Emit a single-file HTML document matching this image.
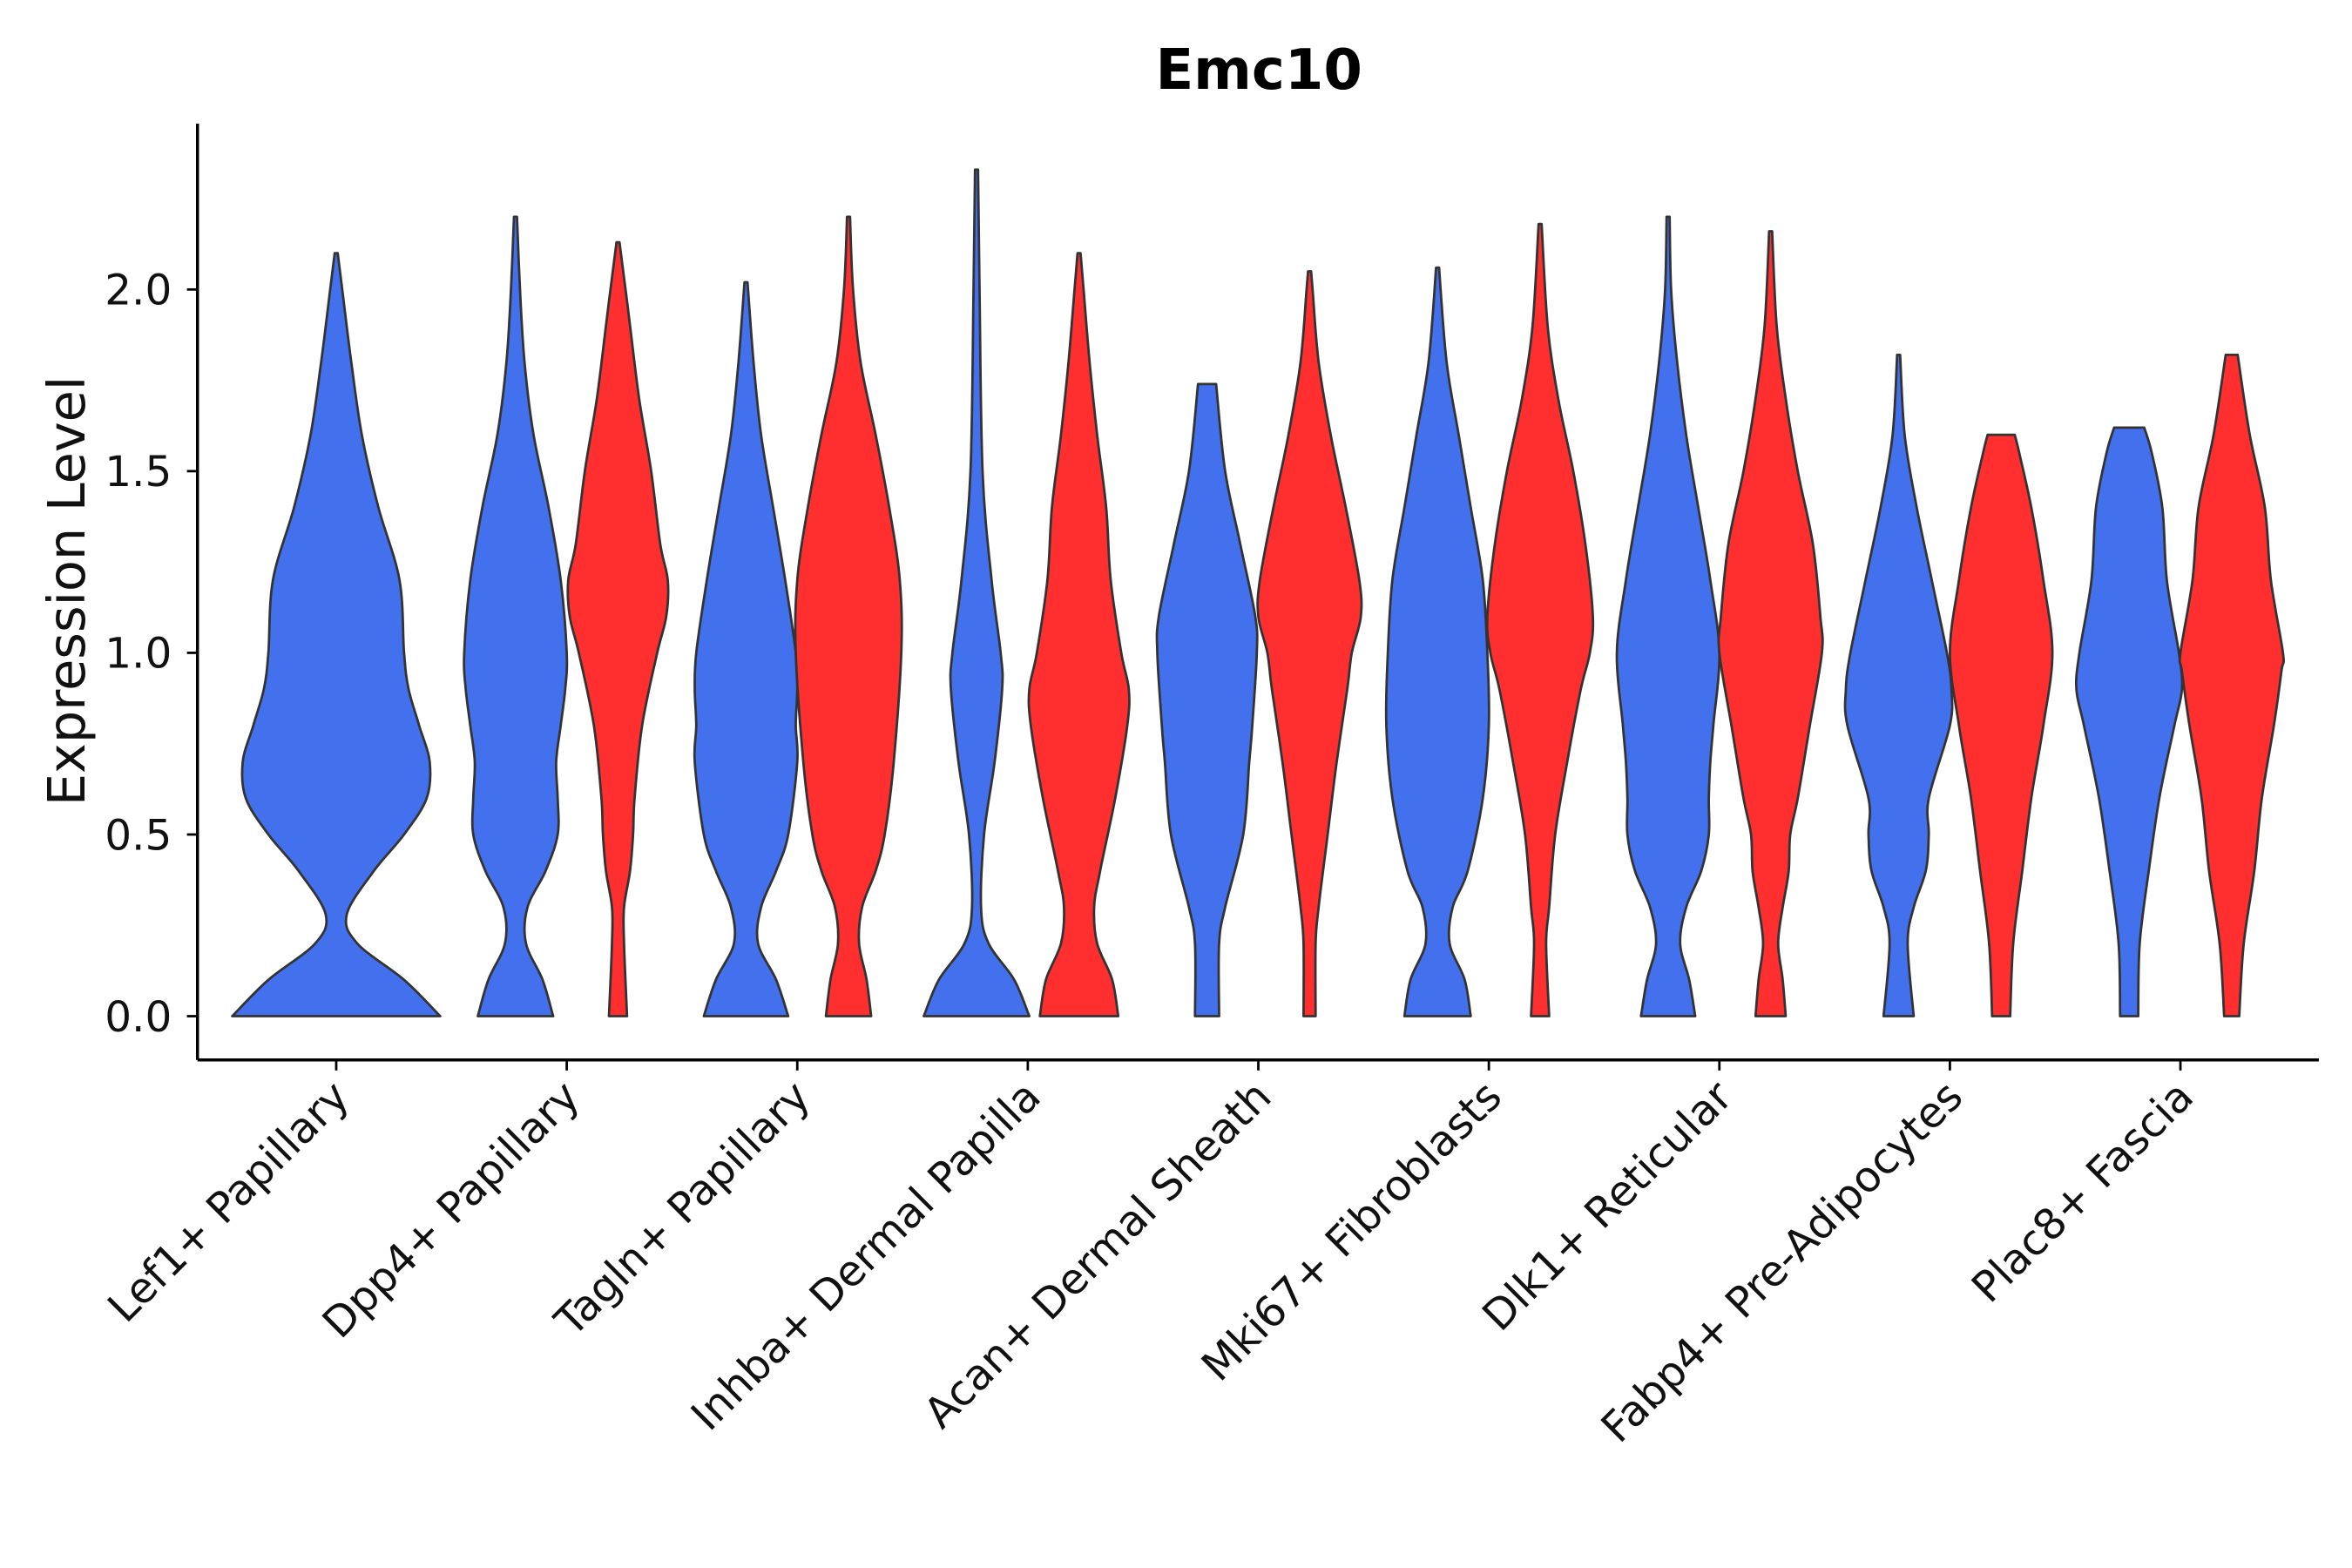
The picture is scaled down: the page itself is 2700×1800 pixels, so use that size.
<!DOCTYPE html>
<html><head><meta charset="utf-8"><style>
html,body{margin:0;padding:0;background:#fff;}
svg{display:block;font-family:"DejaVu Sans","Liberation Sans",sans-serif;}
</style></head><body>
<svg id="chart" width="2700" height="1800" viewBox="0 0 1560 1040" xmlns="http://www.w3.org/2000/svg">
<rect width="1560" height="1040" fill="#fff"/>
<text x="835" y="59" text-anchor="middle" font-size="37" font-weight="bold">Emc10</text>
<text transform="translate(56,392) rotate(-90)" text-anchor="middle" font-size="34" fill="#111">Expression Level</text>
<g id="violins"></g>
<g id="axes"></g>
</svg>
<script>
const categories = ["Lef1+ Papillary","Dpp4+ Papillary","Tagln+ Papillary","Inhba+ Dermal Papilla","Acan+ Dermal Sheath","Mki67+ Fibroblasts","Dlk1+ Reticular","Fabp4+ Pre-Adipocytes","Plac8+ Fascia"];
const yTicks = [0,0.5,1.0,1.5,2.0];
const yTickLabels = ["0.0","0.5","1.0","1.5","2.0"];
// density profiles: [value, relative half-width]
const lef1Blue = [[0,69],[0.1,45],[0.2,14],[0.28,7],[0.4,25],[0.5,45],[0.6,60],[0.7,62],[0.8,55],[0.9,48],[1.0,45],[1.2,42],[1.4,28],[1.6,17],[1.8,10],[2.0,4],[2.1,1]];
const dpp4Blue = [[0,25],[0.1,18],[0.2,7],[0.3,8],[0.4,20],[0.5,28],[0.6,28],[0.7,27],[0.8,30],[0.9,33],[1.0,34],[1.2,30],[1.4,22],[1.6,12],[1.8,6],[2.0,3],[2.2,1]];
const dpp4Red = [[0,6],[0.2,4],[0.3,4],[0.4,8],[0.5,10],[0.6,11],[0.8,16],[1.0,26],[1.1,32],[1.2,33],[1.3,28],[1.5,22],[1.7,14],[1.9,8],[2.0,5],[2.13,1]];
const taglnBlue = [[0,28],[0.1,20],[0.2,8],[0.3,10],[0.4,20],[0.5,28],[0.7,34],[0.8,33],[0.9,34],[1.0,33],[1.2,26],[1.4,18],[1.6,10],[1.8,5],[2.02,1]];
const taglnRed = [[0,15],[0.1,12],[0.2,7],[0.3,9],[0.4,18],[0.5,24],[0.7,30],[1.0,35],[1.2,34],[1.4,27],[1.6,18],[1.8,8],[2.0,3],[2.2,1]];
const inhbaBlue = [[0,35],[0.1,25],[0.2,8],[0.3,3],[0.5,5],[0.7,12],[0.9,17],[1.0,16],[1.2,10],[1.5,4],[2.0,2],[2.33,1]];
const inhbaRed = [[0,26],[0.1,22],[0.2,12],[0.3,10],[0.4,14],[0.6,24],[0.8,32],[0.9,33],[1.0,28],[1.2,21],[1.4,18],[1.6,12],[1.8,7],[2.0,3],[2.1,1]];
const acanBlue = [[0,8],[0.2,8],[0.3,12],[0.5,24],[0.7,28],[0.8,30],[1.0,33],[1.1,32],[1.3,22],[1.5,12],[1.74,6]];
const acanRed = [[0,4],[0.2,4],[0.3,6],[0.5,12],[0.7,18],[0.9,25],[1.0,28],[1.1,34],[1.2,33],[1.4,24],[1.6,14],[1.8,6],[2.0,2],[2.05,1]];
const mki67Blue = [[0,22],[0.1,18],[0.2,8],[0.3,10],[0.4,20],[0.6,30],[0.8,34],[1.0,33],[1.2,30],[1.4,22],[1.6,14],[1.8,6],[2.06,1]];
const mki67Red = [[0,6],[0.2,4],[0.3,6],[0.5,10],[0.7,18],[0.9,27],[1.0,33],[1.1,35],[1.3,30],[1.5,22],[1.7,12],[1.9,5],[2.18,1]];
const dlk1Blue = [[0,18],[0.1,14],[0.2,8],[0.3,12],[0.4,22],[0.5,27],[0.6,27],[0.7,28],[0.8,30],[1.0,34],[1.2,28],[1.4,20],[1.6,12],[1.8,6],[2.0,2],[2.2,1]];
const dlk1Red = [[0,10],[0.1,8],[0.2,5],[0.3,8],[0.4,12],[0.5,13],[0.6,18],[0.8,26],[1.0,34],[1.1,33],[1.3,28],[1.5,18],[1.7,10],[1.9,4],[2.16,1]];
const fabp4Blue = [[0,10],[0.2,6],[0.3,10],[0.4,18],[0.5,20],[0.6,20],[0.8,34],[0.9,35],[1.0,32],[1.2,22],[1.4,12],[1.6,4],[1.82,1]];
const fabp4Red = [[0,6],[0.2,8],[0.4,14],[0.6,20],[0.8,28],[1.0,34],[1.2,28],[1.4,20],[1.55,12],[1.6,9]];
const plac8Blue = [[0,6],[0.2,7],[0.4,13],[0.6,20],[0.8,30],[0.9,35],[1.0,33],[1.2,25],[1.4,22],[1.55,15],[1.62,10]];
const plac8Red = [[0,5],[0.2,8],[0.4,15],[0.6,20],[0.8,28],[0.95,33],[1.0,34],[1.2,26],[1.4,22],[1.6,12],[1.82,4]];
const blueSeries = [lef1Blue,dpp4Blue,taglnBlue,inhbaBlue,acanBlue,mki67Blue,dlk1Blue,fabp4Blue,plac8Blue];
const redSeries = [null,dpp4Red,taglnRed,inhbaRed,acanRed,mki67Red,dlk1Red,fabp4Red,plac8Red];

const NS="http://www.w3.org/2000/svg";
const X0=131, X1=1538, Y0=703, Ytop=82;
function yScale(v){return 674 - v*241;}
function xCat(i){return 223 + i*152.9;}
function wScale(d){return d;}
const vg=document.getElementById('violins');
const ag=document.getElementById('axes');
function mk(tag,attrs,parent){const e=document.createElementNS(NS,tag);for(const k in attrs)e.setAttribute(k,attrs[k]);parent.appendChild(e);return e;}
function crPath(pts){
  let s='';
  for(let i=0;i<pts.length-1;i++){
    const p0=pts[Math.max(0,i-1)],p1=pts[i],p2=pts[i+1],p3=pts[Math.min(pts.length-1,i+2)];
    const c1=[p1[0]+(p2[0]-p0[0])/6,p1[1]+(p2[1]-p0[1])/6];
    const c2=[p2[0]-(p3[0]-p1[0])/6,p2[1]-(p3[1]-p1[1])/6];
    s+=`C${c1[0].toFixed(1)},${c1[1].toFixed(1)} ${c2[0].toFixed(1)},${c2[1].toFixed(1)} ${p2[0].toFixed(1)},${p2[1].toFixed(1)}`;
  }
  return s;
}
function violin(prof,cx,color,name){
  const left=prof.map(p=>[cx-wScale(p[1]),yScale(p[0])]);
  const right=prof.map(p=>[cx+wScale(p[1]),yScale(p[0])]).reverse();
  let d=`M${left[0][0].toFixed(1)},${left[0][1].toFixed(1)}`+crPath(left)+`L${right[0][0].toFixed(1)},${right[0][1].toFixed(1)}`+crPath(right)+'Z';
  const e=mk('path',{d:d,fill:color,stroke:'#333','stroke-width':1.6,'stroke-linejoin':'round'},vg);
  
  
}
categories.forEach((c,i)=>{
  const cx=xCat(i);
  if(redSeries[i]){
    violin(blueSeries[i],cx-34,'#4370EC','violin-blue-'+i);
    violin(redSeries[i],cx+34,'#FF2F2F','violin-red-'+i);
  } else {
    violin(blueSeries[i],cx,'#4370EC','violin-blue-'+i);
  }
  mk('line',{x1:cx,x2:cx,y1:Y0,y2:Y0+7,stroke:'#000','stroke-width':1.6},ag);
  const t=mk('text',{x:cx+10,y:Y0+26,'text-anchor':'end','font-size':28,fill:'#111',transform:`rotate(-45 ${cx+10} ${Y0+26})`},ag);
  t.textContent=c;
  
  
});
yTicks.forEach((v,i)=>{
  const y=yScale(v);
  mk('line',{x1:X0-7,x2:X0,y1:y,y2:y,stroke:'#000','stroke-width':1.6},ag);
  const t=mk('text',{x:X0-17,y:y+10,'text-anchor':'end','font-size':28,fill:'#111'},ag);
  t.textContent=yTickLabels[i];
  
  
});
const ya=mk('line',{x1:X0,x2:X0,y1:Ytop,y2:Y0,stroke:'#000','stroke-width':2},ag);


const xa=mk('line',{x1:X0,x2:X1,y1:Y0,y2:Y0,stroke:'#000','stroke-width':2},ag);


</script>
</body></html>
